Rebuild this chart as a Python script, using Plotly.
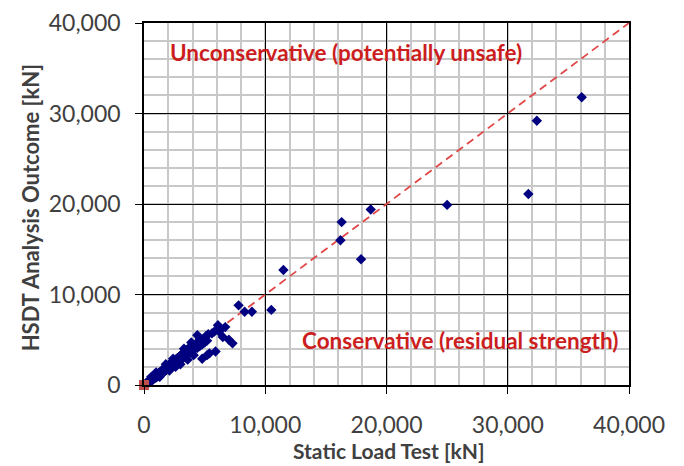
import plotly.graph_objects as go

# Static load test (x) vs HSDT analysis outcome (y), kN
static_kn = [
    150, 200, 250, 300, 350, 400, 420, 480, 500, 550, 600, 620, 680, 700, 750, 800, 820, 880, 900, 950,
    1000, 1020, 1080, 1100, 1150, 1200, 1220, 1280, 1300, 1350, 1400, 1420, 1480, 1500, 1550, 1600, 1620,
    1680, 1700, 1750, 1800, 1820, 1880, 1900, 1950, 2000, 2020, 2080, 2100, 2150, 2200, 2250, 2300, 2350,
    2400, 2450, 2500, 2550, 2600, 2650, 2700, 2750, 2800, 2850, 2900, 2950, 3000, 3050, 3100, 3150, 3200,
    3250, 3300, 3350, 3400, 3450, 3500, 3550, 3600, 3650, 3700, 3800, 3900, 4000, 4100, 4200, 4300, 4400,
    4500, 4600, 4700, 4800, 4900, 5000, 5100, 5200, 5300, 1300, 2100, 2600, 3000, 3600, 4100, 600, 1000,
    1800, 2400, 3300, 3900, 4600,
    36100, 32400, 31700, 25000, 18700, 16300, 16200, 17900, 11500, 10500, 7800, 8300, 8900, 6700, 6200,
    5800, 6500, 7000, 7300, 5900, 5400, 4800, 5600, 4400, 6100, 6300, 5200,
]
hsdt_kn = [
    120, 250, 180, 350, 280, 420, 300, 520, 380, 600, 450, 700, 550, 800, 620, 900, 700, 760, 1000, 820,
    1100, 850, 1200, 950, 1000, 1300, 1050, 1150, 1400, 1200, 1500, 1250, 1300, 1650, 1400, 1750, 1450,
    1500, 1850, 1600, 1950, 1650, 1700, 2050, 1800, 2150, 1850, 1900, 2250, 2000, 2400, 2100, 2500, 2150,
    2600, 2300, 2700, 2350, 2800, 2450, 2900, 2550, 3000, 2650, 3100, 2700, 3250, 2850, 3350, 2900, 3500,
    3050, 3600, 3100, 3700, 3250, 3850, 3300, 3950, 3450, 4050, 3600, 4200, 3800, 4400, 4000, 4600, 4100,
    4700, 4300, 4900, 4500, 5100, 4700, 5400, 4900, 5600, 900, 1600, 2000, 2300, 2800, 3300, 900, 1400,
    2300, 2900, 4000, 4700, 5200,
    31800, 29200, 21100, 19900, 19400, 18000, 16000, 13900, 12700, 8300, 8800, 8100, 8100, 6400, 5900,
    5900, 5300, 5000, 4600, 3700, 3500, 2900, 5700, 5500, 6600, 6100, 3300,
]
line_x = [0, 40000]
line_y = [0, 40000]
origin_x = [0]
origin_y = [0]
tick_vals = [0, 10000, 20000, 30000, 40000]
tick_text = ["0", "10,000", "20,000", "30,000", "40,000"]

FONT = "Lato"
RED = "#CC1E1E"
GREY_TXT = "#404040"

fig = go.Figure()
fig.add_trace(go.Scatter(x=line_x, y=line_y, mode="lines",
                         line=dict(color="#E04848", width=1.8, dash="8px,5px"),
                         hoverinfo="skip", showlegend=False))
fig.add_trace(go.Scatter(x=static_kn, y=hsdt_kn, mode="markers",
                         marker=dict(symbol="diamond", size=8, color="#000080",
                                     line=dict(width=0)),
                         showlegend=False, cliponaxis=False))
fig.add_trace(go.Scatter(x=origin_x, y=origin_y, mode="markers",
                         marker=dict(symbol="square", size=10, color="#C0504D"),
                         showlegend=False, cliponaxis=False))

axis_common = dict(
    range=[0, 40000], tickvals=tick_vals, ticktext=tick_text,
    showgrid=True, gridcolor="#000000", gridwidth=1,
    minor=dict(dtick=2000, showgrid=True, gridcolor="#C8C8C8", gridwidth=1.5),
    showline=True, linecolor="#000000", linewidth=1.5, mirror=True,
    ticks="outside", ticklen=7, tickcolor="#000000",
    zeroline=False, automargin=False, ticklabeloverflow="allow",
    tickfont=dict(family=FONT, size=23, color=GREY_TXT),
)

fig.update_xaxes(**axis_common, ticklabelstandoff=12)
fig.update_yaxes(**axis_common, ticklabelstandoff=10)

fig.add_annotation(x=0.505, y=-0.18, xref="paper", yref="paper", xanchor="center", yanchor="middle",
                   text="<b>Static Load Test [kN]</b>", showarrow=False,
                   font=dict(family=FONT, size=21, color=GREY_TXT))
fig.add_annotation(x=-0.235, y=0.488, xref="paper", yref="paper", xanchor="center", yanchor="middle",
                   text="<b>HSDT Analysis Outcome [kN]</b>", showarrow=False, textangle=-90,
                   font=dict(family=FONT, size=22, color=GREY_TXT))

fig.add_annotation(x=1950, y=36700, xref="x", yref="y", xanchor="left", yanchor="middle",
                   text="<b>Unconservative (potentially unsafe)</b>", showarrow=False,
                   font=dict(family=FONT, size=22.5, color=RED))
fig.add_annotation(x=12850, y=4930, xref="x", yref="y", xanchor="left", yanchor="middle",
                   text="<b>Conservative (residual strength)</b>", showarrow=False,
                   font=dict(family=FONT, size=22.5, color=RED))

# page body has an 8px margin: plot area lands at about x 144..629, y 23..385 in the window
fig.update_layout(
    width=676, height=458,
    margin=dict(l=136, r=55, t=15, b=81),
    plot_bgcolor="#FFFFFF", paper_bgcolor="#FFFFFF",
    font=dict(family=FONT),
)

fig.write_html("out.html")
